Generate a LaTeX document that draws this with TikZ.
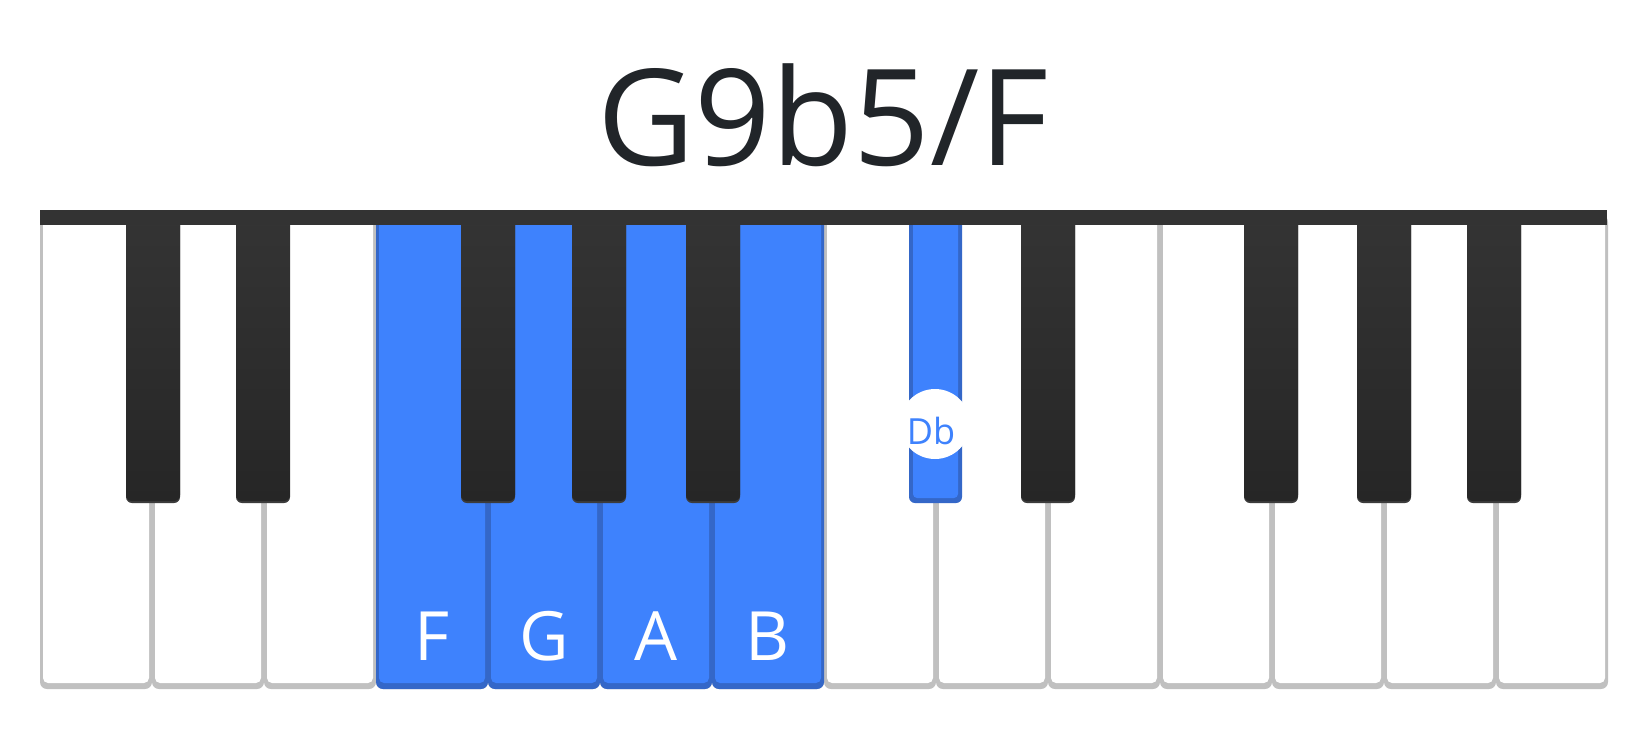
\documentclass[tikz,border=0pt]{standalone}
\usepackage{fontspec}
\setmainfont{Open Sans}
\definecolor{keygray}{HTML}{C0C0C0}
\definecolor{bluekey}{HTML}{3E82FD}
\definecolor{blueedge}{HTML}{3467C8}
\definecolor{barcol}{HTML}{333333}
\definecolor{blacktop}{HTML}{343434}
\definecolor{blackbot}{HTML}{262626}
\definecolor{blackedge}{HTML}{3C3C3C}
\definecolor{titlecol}{HTML}{212529}
\tikzset{
  keylabel/.style={text=white, anchor=base, inner sep=0pt, font=\fontsize{68}{72}\selectfont},
}
\begin{document}
\begin{tikzpicture}[x=1pt,y=-1pt]
\useasboundingbox[fill=white] (0,0) rectangle (1650,740);
% white keys
\foreach \i in {0,...,13} {
  \pgfmathsetmacro\xa{40+112*\i}
  \fill[keygray, rounded corners=7pt] (\xa,215) rectangle ++(112,474);
  \fill[white, rounded corners=5pt] (\xa+3,215) rectangle (\xa+109,683);
}
% highlighted white keys F G A B
\foreach \i in {3,4,5,6} {
  \pgfmathsetmacro\xa{40+112*\i}
  \fill[blueedge, rounded corners=7pt] (\xa,215) rectangle ++(112,474);
  \fill[bluekey, rounded corners=5pt] (\xa+3,215) rectangle (\xa+109,683);
}
% black keys (centres)
\foreach \c in {153,263,488,599,713,1048,1271,1384,1494} {
  \fill[blackedge, rounded corners=6pt] (\c-27,215) rectangle (\c+27,503);
  \shade[top color=blacktop, bottom color=blackbot, rounded corners=6pt] (\c-27,215) rectangle (\c+27,501);
}
% highlighted black key Db
\fill[blueedge, rounded corners=6pt] (909,215) rectangle (962,503);
\fill[bluekey, rounded corners=4pt] (913,215) rectangle (958,498);
% top bar
\fill[barcol] (40,210) rectangle (1607,225);
% labels
\node[circle, fill=white, minimum size=70pt, inner sep=0pt] (dbcircle) at (935,424) {};
\node[text=bluekey, anchor=base, inner sep=0pt, font=\fontsize{36}{40}\selectfont] (dblabel) at (931,444) {Db};
\node[keylabel] (lblF) at (432,660) {F};
\node[keylabel] (lblG) at (544,660) {G};
\node[keylabel] (lblA) at (656,660) {A};
\node[keylabel] (lblB) at (768,660) {B};
\node[text=titlecol, anchor=base, inner sep=0pt, font=\fontsize{134}{140}\selectfont] (title) at (823,165) {G9b5/F};
\end{tikzpicture}
\end{document}
